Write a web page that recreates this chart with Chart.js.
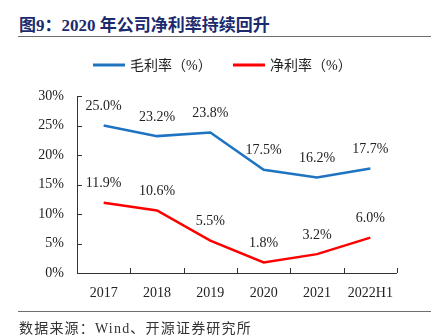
<!DOCTYPE html>
<html>
<head>
<meta charset="utf-8">
<script src="https://cdn.jsdelivr.net/npm/chart.js@4"></script>
<style>
  html, body { margin: 0; padding: 0; background: #fff; }
  #wrap { position: relative; width: 433px; height: 336px; overflow: hidden; }
  #title {
    position: absolute; left: 19px; top: 11px;
    font: bold 17px "Liberation Serif", "Noto Sans CJK SC", serif;
    color: #1c2a6e; white-space: nowrap;
  }
  #rule1 { position: absolute; left: 18px; top: 36px; width: 413px; height: 0; border-top: 1.5px solid #6e6e6e; }
  #rule2 { position: absolute; left: 18px; top: 311px; width: 413px; height: 0; border-top: 1px solid #6e6e6e; }
  #source {
    position: absolute; left: 19px; top: 317px;
    font: 14px "Liberation Serif", "Noto Sans CJK SC", serif;
    letter-spacing: 1.2px;
    color: #333; white-space: nowrap;
  }
  canvas { position: absolute; left: 0; top: 0; }
</style>
</head>
<body>
<div id="wrap">
  <div id="title">图9：2020 年公司净利率持续回升</div>
  <div id="rule1"></div>
  <canvas id="chart" width="433" height="336"></canvas>
  <div id="rule2"></div>
  <div id="source">数据来源：Wind、开源证券研究所</div>
</div>
<script>
// 数据
const years       = ['2017', '2018', '2019', '2020', '2021', '2022H1'];
const grossMargin = [25.0, 23.2, 23.8, 17.5, 16.2, 17.7];
const netMargin   = [11.9, 10.6, 5.5, 1.8, 3.2, 6.0];
const yTicks      = [0, 5, 10, 15, 20, 25, 30];

const SERIF = "'Liberation Serif', 'Times New Roman', serif";
const CJK   = "'Liberation Serif', 'Noto Sans CJK SC', serif";

// 坐标轴 + 内向刻度线
const axisPlugin = {
  id: 'axisLines',
  afterDraw(chart) {
    const { ctx, chartArea: a, scales: { x, y } } = chart;
    ctx.save();
    ctx.strokeStyle = '#333';
    ctx.lineWidth = 1;
    ctx.beginPath();
    ctx.moveTo(a.left + 0.5, a.top);
    ctx.lineTo(a.left + 0.5, a.bottom + 0.5);
    ctx.lineTo(a.right, a.bottom + 0.5);
    yTicks.forEach(v => {
      const py = Math.round(y.getPixelForValue(v)) + 0.5;
      ctx.moveTo(a.left, py);
      ctx.lineTo(a.left + 5, py);
    });
    for (let i = 0; i <= years.length; i++) {
      const px = Math.round(x.getPixelForValue(i - 0.5)) + 0.5;
      ctx.moveTo(px, a.bottom);
      ctx.lineTo(px, a.bottom - 5);
    }
    ctx.stroke();
    ctx.restore();
  }
};

// 数据标签
const labelPlugin = {
  id: 'pointLabels',
  afterDatasetsDraw(chart) {
    const { ctx } = chart;
    ctx.save();
    ctx.font = '14px ' + SERIF;
    ctx.fillStyle = '#222';
    ctx.textAlign = 'center';
    ctx.textBaseline = 'middle';
    chart.data.datasets.forEach((ds, di) => {
      chart.getDatasetMeta(di).data.forEach((pt, i) => {
        ctx.fillText(ds.data[i].toFixed(1) + '%', pt.x, pt.y - 19);
      });
    });
    ctx.restore();
  }
};

// 图例
const legendPlugin = {
  id: 'lineLegend',
  afterDraw(chart) {
    const { ctx } = chart;
    const items = [
      { x: 93, color: '#1f74c2', text: '毛利率（%）' },
      { x: 233, color: '#ff0000', text: '净利率（%）' },
    ];
    ctx.save();
    ctx.font = '14px ' + CJK;
    ctx.textBaseline = 'middle';
    ctx.fillStyle = '#222';
    items.forEach(it => {
      ctx.strokeStyle = it.color;
      ctx.lineWidth = 3;
      ctx.beginPath();
      ctx.moveTo(it.x, 65);
      ctx.lineTo(it.x + 32, 65);
      ctx.stroke();
      ctx.fillText(it.text, it.x + 37, 66);
    });
    ctx.restore();
  }
};

new Chart(document.getElementById('chart'), {
  type: 'line',
  data: {
    labels: years,
    datasets: [
      { label: '毛利率（%）', data: grossMargin, borderColor: '#1f74c2', borderWidth: 2.5, pointRadius: 0, tension: 0, fill: false },
      { label: '净利率（%）', data: netMargin, borderColor: '#ff0000', borderWidth: 2.5, pointRadius: 0, tension: 0, fill: false },
    ]
  },
  options: {
    responsive: false,
    animation: false,
    events: [],
    layout: { padding: { left: 0, right: 36, top: 96, bottom: 0 } },
    plugins: { legend: { display: false }, tooltip: { enabled: false } },
    scales: {
      x: {
        offset: true,
        grid: { display: false, drawTicks: false },
        border: { display: false },
        ticks: { color: '#222', font: { family: SERIF, size: 14 }, padding: 12, maxRotation: 0, autoSkip: false },
        afterFit: s => { s.height = 63; }
      },
      y: {
        min: 0, max: 30,
        afterBuildTicks: s => { s.ticks = yTicks.map(v => ({ value: v })); },
        grid: { display: false, drawTicks: false },
        border: { display: false },
        ticks: { color: '#222', font: { family: SERIF, size: 14 }, padding: 13, callback: v => v + '%' },
        afterFit: s => { s.width = 77; }
      }
    }
  },
  plugins: [axisPlugin, labelPlugin, legendPlugin]
});
</script>
</body>
</html>
